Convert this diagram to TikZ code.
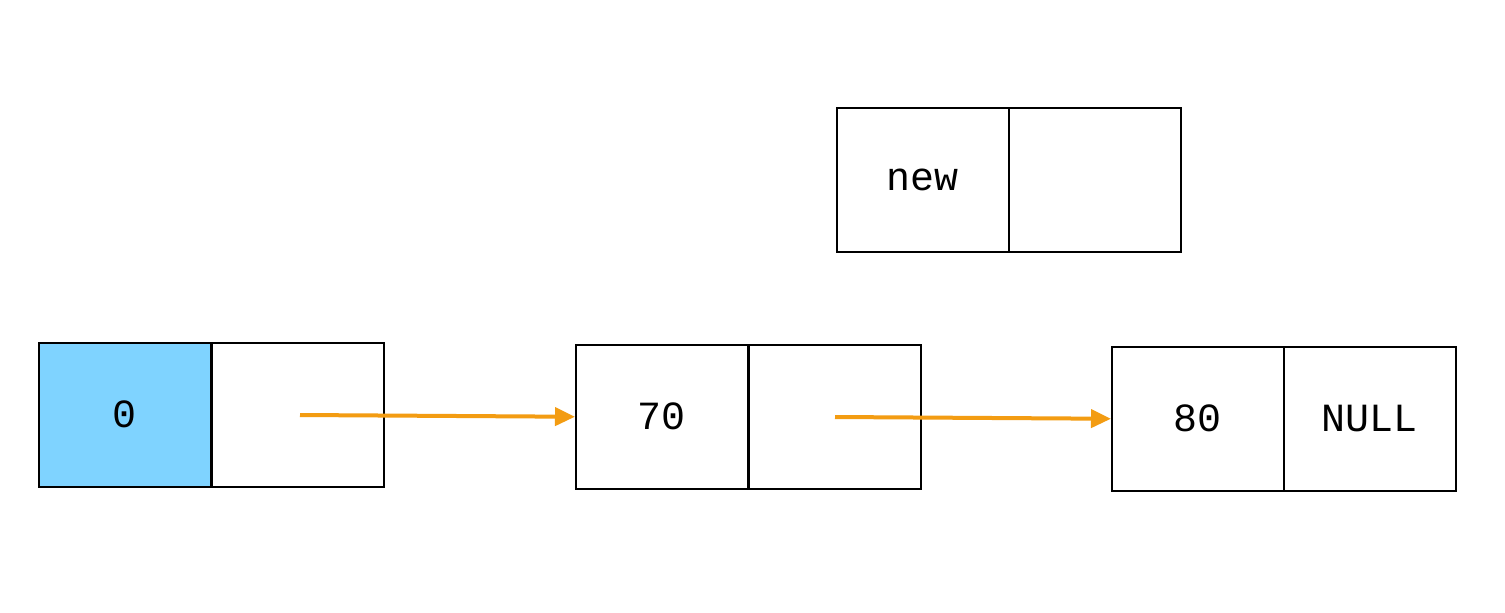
\documentclass[tikz,border=0pt]{standalone}
\usepackage{fontspec}
\setmonofont{Liberation Mono}
\usetikzlibrary{arrows.meta}
\definecolor{headblue}{HTML}{7FD3FF}
\definecolor{arrorange}{HTML}{F39C12}
\begin{document}
\begin{tikzpicture}[x=1pt,y=-1pt,
  cell/.style={draw=black,line width=1.5pt,minimum width=172pt,minimum height=144pt,inner sep=0pt,anchor=north west,font=\ttfamily\fontsize{40}{40}\selectfont},
  link/.style={arrorange,line width=4pt,-{Triangle[length=20pt,width=18pt]}}]
\useasboundingbox[fill=white] (0,0) rectangle (1505,613);
\node[cell] (nv) at (836,107) {new};
\node[cell] (np) at (1008,107) {};
\node[cell,fill=headblue] (av) at (38,342) {0};
\node[cell] (ap) at (211,342) {};
\node[cell] (bv) at (575,344) {70};
\node[cell] (bp) at (748,344) {};
\node[cell] (cv) at (1111,346) {80};
\node[cell] (cp) at (1283,346) {NULL};
\coordinate (as) at (300,415);
\coordinate (bs) at (835,417);
\draw[link] (as) -- (bv.west);
\draw[link] (bs) -- (cv.west);
\end{tikzpicture}
\end{document}
